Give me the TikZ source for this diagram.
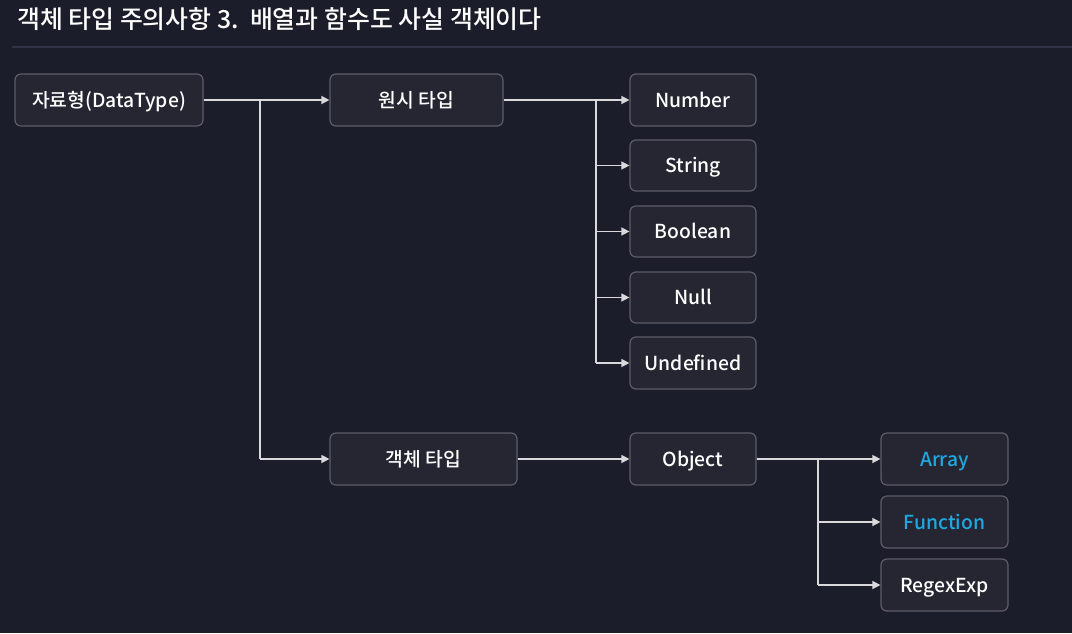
\documentclass[tikz,border=0pt]{standalone}
\usepackage{fontspec}
\setmainfont{Noto Sans CJK KR Medium}
\usetikzlibrary{arrows.meta}
\definecolor{bg}{HTML}{1C1D2A}
\definecolor{boxfill}{HTML}{252631}
\definecolor{boxline}{HTML}{5C5D68}
\definecolor{wire}{HTML}{D9D9DC}
\definecolor{rule}{HTML}{33344A}
\definecolor{hl}{HTML}{1FA8E2}
\tikzset{
  box/.style={draw=boxline, fill=boxfill, line width=1.2pt, rounded corners=6pt,
    text=white, font=\fontsize{19.3}{22}\selectfont, inner sep=0pt, anchor=center,
    text height=17pt, text depth=2.5pt},
  wirearrow/.style={draw=wire, line width=1.4pt, -{Triangle[length=8pt,width=8pt]}},
  wireline/.style={draw=wire, line width=1.4pt}
}
\begin{document}
\begin{tikzpicture}[x=1pt,y=-1pt]
\fill[bg] (0,0) rectangle (1072,633);
\useasboundingbox (0,0) rectangle (1072,633);
\node[anchor=west, text=white, font=\fontsize{24.9}{28}\selectfont, inner sep=0pt] (title) at (17,19) {객체 타입 주의사항 3.\ \ 배열과 함수도 사실 객체이다};
\draw[rule, line width=1.5pt] (12,47) -- (1072,47);

\node[box, minimum width=188pt, minimum height=52pt] (dt) at (109,100) {자료형(DataType)};
\node[box, minimum width=173pt, minimum height=52pt] (prim) at (416.5,100) {원시 타입};
\node[box, minimum width=187pt, minimum height=52pt] (obj) at (423.5,459) {객체 타입};

\node[box, minimum width=126pt, minimum height=52pt] (num) at (693,100) {Number};
\node[box, minimum width=126pt, minimum height=51pt] (str) at (693,165.5) {String};
\node[box, minimum width=126pt, minimum height=51pt] (bool) at (693,231.5) {Boolean};
\node[box, minimum width=126pt, minimum height=51pt] (null) at (693,297.5) {Null};
\node[box, minimum width=126pt, minimum height=52pt] (undef) at (693,363) {Undefined};

\node[box, minimum width=126pt, minimum height=52pt] (object) at (693,459) {Object};
\node[box, minimum width=127pt, minimum height=52pt, text=hl] (arr) at (944.5,459) {Array};
\node[box, minimum width=127pt, minimum height=52pt, text=hl] (fn) at (944.5,522) {Function};
\node[box, minimum width=127pt, minimum height=52pt] (re) at (944.5,585) {RegexExp};

\coordinate (j1) at (260,100);
\coordinate (j2) at (596,100);
\coordinate (j3) at (818,459);

\draw[wirearrow] (dt.east) -- (prim.west);
\draw[wireline] (j1) -- (j1 |- obj.west);
\draw[wirearrow] (j1 |- obj.west) -- (obj.west);

\draw[wirearrow] (prim.east) -- (num.west);
\draw[wireline] (j2) -- (j2 |- undef.west);
\draw[wirearrow] (j2 |- str.west) -- (str.west);
\draw[wirearrow] (j2 |- bool.west) -- (bool.west);
\draw[wirearrow] (j2 |- null.west) -- (null.west);
\draw[wirearrow] (j2 |- undef.west) -- (undef.west);

\draw[wirearrow] (obj.east) -- (object.west);
\draw[wirearrow] (object.east) -- (arr.west);
\draw[wireline] (j3) -- (j3 |- re.west);
\draw[wirearrow] (j3 |- fn.west) -- (fn.west);
\draw[wirearrow] (j3 |- re.west) -- (re.west);
\end{tikzpicture}
\end{document}
